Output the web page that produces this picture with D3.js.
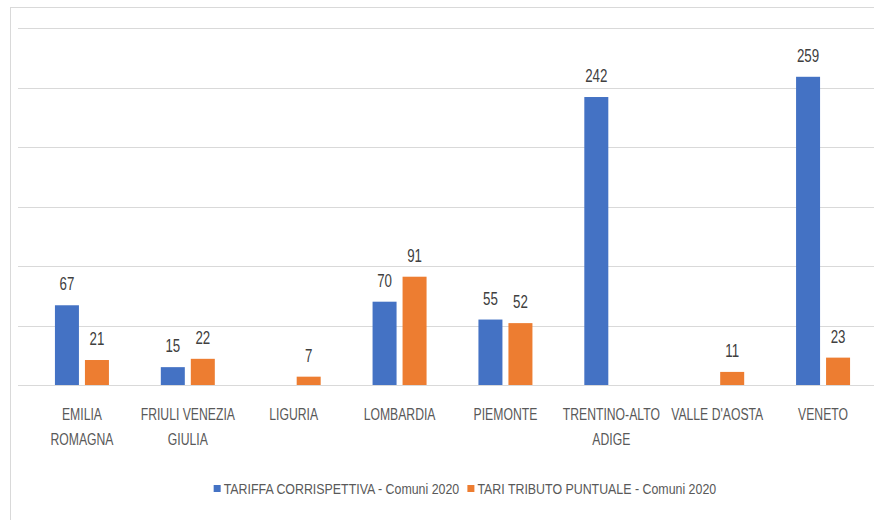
<!DOCTYPE html>
<html>
<head>
<meta charset="utf-8">
<script src="https://cdn.jsdelivr.net/npm/d3@7"></script>
<style>
  body { margin: 0; background: #fff; }
  svg { display: block; font-family: "Liberation Sans", Arial, sans-serif; }
</style>
</head>
<body>
<script>
// dati
var categories = ["EMILIA\nROMAGNA", "FRIULI VENEZIA\nGIULIA", "LIGURIA", "LOMBARDIA",
                  "PIEMONTE", "TRENTINO-ALTO\nADIGE", "VALLE D'AOSTA", "VENETO"];
var seriesNames = ["TARIFFA CORRISPETTIVA - Comuni 2020", "TARI TRIBUTO PUNTUALE - Comuni 2020"];
var tariffa = [67, 15, null, 70, 55, 242, null, 259];
var tari    = [21, 22, 7, 91, 52, null, 11, 23];
var yTicks  = [0, 50, 100, 150, 200, 250, 300];
var colors  = ["#4472C4", "#ED7D31"];

var width = 874, height = 520;
var squeeze = 0.74; // testo stretto come nel grafico originale

var svg = d3.select("body").append("svg")
    .attr("width", width)
    .attr("height", height);

// cornice
svg.append("rect")
    .attr("x", 10.5).attr("y", 7.5)
    .attr("width", width).attr("height", height)
    .attr("fill", "none")
    .attr("stroke", "#d9d9d9");

var x0 = d3.scaleBand()
    .domain(categories)
    .range([29, 876])
    .paddingInner(0.49)
    .paddingOuter(0.245);

var x1 = d3.scaleBand()
    .domain([0, 1])
    .range([0, x0.bandwidth()])
    .paddingInner(0.2);

var y = d3.scaleLinear()
    .domain([0, 300])
    .range([385, 28]);

// griglia
svg.append("g")
    .selectAll("line")
    .data(yTicks)
    .enter().append("line")
    .attr("x1", 18).attr("x2", 874)
    .attr("y1", function(d) { return Math.round(y(d)) + 0.5; })
    .attr("y2", function(d) { return Math.round(y(d)) + 0.5; })
    .attr("stroke", "#d9d9d9")
    .attr("stroke-width", 1.2);

// barre
var rows = categories.map(function(c, i) {
  return { cat: c, vals: [tariffa[i], tari[i]] };
});
function present(d) {
  return d.vals.map(function(v, k) { return { k: k, v: v }; })
               .filter(function(e) { return e.v != null; });
}

var groups = svg.append("g").selectAll("g")
    .data(rows)
    .enter().append("g")
    .attr("transform", function(d) { return "translate(" + x0(d.cat) + ",0)"; });

groups.selectAll("rect")
    .data(present)
    .enter().append("rect")
    .attr("x", function(d) { return x1(d.k); })
    .attr("y", function(d) { return y(d.v); })
    .attr("width", x1.bandwidth())
    .attr("height", function(d) { return y(0) - y(d.v); })
    .attr("fill", function(d) { return colors[d.k]; });

groups.selectAll("text")
    .data(present)
    .enter().append("text")
    .attr("transform", function(d) {
      return "translate(" + (x1(d.k) + x1.bandwidth() / 2) + "," + (y(d.v) - 15) + ") scale(" + squeeze + ",1)";
    })
    .attr("text-anchor", "middle")
    .attr("font-size", "18px")
    .attr("fill", "#404040")
    .text(function(d) { return d.v; });

// asse x
var xAxis = svg.append("g")
    .attr("transform", "translate(0," + y(0) + ")")
    .call(d3.axisBottom(x0).tickSize(0).tickFormat(""));
xAxis.select(".domain").remove();

xAxis.selectAll(".tick").each(function(d) {
  var t = d3.select(this).append("text")
      .attr("transform", "scale(" + squeeze + ",1)")
      .attr("text-anchor", "middle")
      .attr("font-size", "16.5px")
      .attr("fill", "#595959");
  d.split("\n").forEach(function(line, i) {
    t.append("tspan").attr("x", 0).attr("y", 35 + i * 25).text(line);
  });
});

// legenda
var legend = svg.append("g");
var items = legend.selectAll("g")
    .data(seriesNames)
    .enter().append("g");
items.append("rect")
    .attr("width", 7).attr("height", 7)
    .attr("y", 485)
    .attr("fill", function(d, i) { return colors[i]; });
items.append("text")
    .attr("transform", "translate(10,494) scale(0.8,1)")
    .attr("font-size", "15.5px")
    .attr("fill", "#595959")
    .text(function(d) { return d; });

var pos = 0, offs = [];
items.each(function() {
  offs.push(pos);
  pos += this.getBBox().width + 8;
});
var start = 465 - (pos - 8) / 2;
items.attr("transform", function(d, i) { return "translate(" + (start + offs[i]) + ",0)"; });
</script>
</body>
</html>
